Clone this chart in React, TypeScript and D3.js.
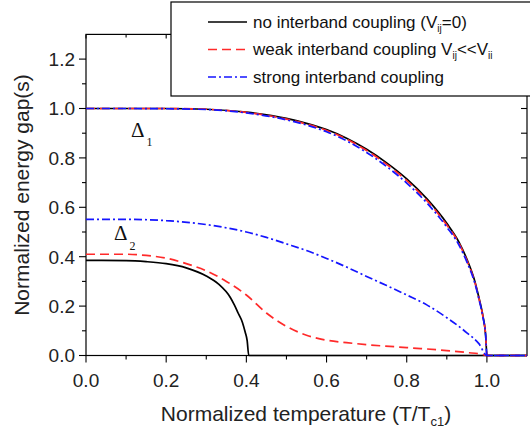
import * as d3 from 'd3';

const W = 530;
const H = 430;
const PLOT = { left: 86, right: 527, top: 34.4, bottom: 355.5 };

// Δ1 (large gap) — same temperature grid for the three cases
const T1 = [0, 0.1, 0.2, 0.3, 0.4, 0.5, 0.55, 0.6, 0.65, 0.7, 0.75, 0.8, 0.85, 0.9, 0.93, 0.95, 0.97, 0.98, 0.99, 0.997, 1.0, 1.1];
const gap1None = [1, 1, 1, 0.997, 0.985, 0.96, 0.94, 0.915, 0.88, 0.835, 0.78, 0.715, 0.635, 0.535, 0.46, 0.39, 0.3, 0.235, 0.16, 0.08, 0, 0];
const gap1Weak = [1, 1, 1, 0.997, 0.984, 0.957, 0.937, 0.911, 0.876, 0.83, 0.774, 0.708, 0.628, 0.528, 0.455, 0.385, 0.296, 0.232, 0.158, 0.079, 0, 0];
const gap1Strong = [1, 1, 0.999, 0.996, 0.982, 0.954, 0.933, 0.906, 0.869, 0.822, 0.765, 0.698, 0.618, 0.52, 0.448, 0.379, 0.292, 0.229, 0.156, 0.078, 0, 0];

// Δ2 (small gap)
const T2None = [0, 0.1, 0.15, 0.2, 0.25, 0.3, 0.33, 0.36, 0.37, 0.38, 0.39, 0.397, 0.402, 0.406, 1.1];
const gap2None = [0.385, 0.384, 0.38, 0.372, 0.355, 0.322, 0.29, 0.235, 0.205, 0.17, 0.135, 0.095, 0.06, 0, 0];
const T2Weak = [0, 0.1, 0.15, 0.2, 0.25, 0.3, 0.35, 0.4, 0.45, 0.5, 0.55, 0.6, 0.65, 0.7, 0.8, 0.9, 0.95, 0.99, 1.0, 1.1];
const gap2Weak = [0.41, 0.41, 0.405, 0.394, 0.372, 0.343, 0.3, 0.245, 0.172, 0.118, 0.082, 0.062, 0.052, 0.044, 0.032, 0.02, 0.012, 0.004, 0, 0];
const T2Strong = [0, 0.1, 0.2, 0.3, 0.4, 0.45, 0.5, 0.55, 0.6, 0.65, 0.7, 0.75, 0.8, 0.85, 0.9, 0.95, 0.98, 1.0, 1.1];
const gap2Strong = [0.551, 0.551, 0.546, 0.53, 0.5, 0.478, 0.452, 0.425, 0.393, 0.358, 0.32, 0.283, 0.245, 0.205, 0.153, 0.092, 0.048, 0, 0];

const xTickLabels = ['0.0', '0.2', '0.4', '0.6', '0.8', '1.0'];
const yTickLabels = ['0.0', '0.2', '0.4', '0.6', '0.8', '1.0', '1.2'];

const BLACK = '#000';
const RED = '#ff2a2a';
const BLUE = '#1515ff';
const DASH = '9,5';
const DASHDOT = '8,3,2,3';

const SANS = '"Liberation Sans", Arial, Helvetica, sans-serif';
const SERIF = '"Liberation Serif", "Times New Roman", serif';

export default function App() {
  const x = d3.scaleLinear().domain([0, 1.1]).range([PLOT.left, PLOT.right]);
  const y = d3.scaleLinear().domain([0, 1.3]).range([PLOT.bottom, PLOT.top]);

  const path = (ts: number[], vs: number[]) =>
    d3
      .line<number>()
      .x((_, i) => x(ts[i]))
      .y((v) => y(v))
      .curve(d3.curveMonotoneX)(vs) as string;

  const xMinor = d3.range(0, 11).map((i) => i / 10);
  const yMinor = d3.range(0, 13).map((i) => i / 10);

  const curves = [
    { d: path(T1, gap1None), color: BLACK, dash: undefined },
    { d: path(T2None, gap2None), color: BLACK, dash: undefined },
    { d: path(T1, gap1Weak), color: RED, dash: DASH },
    { d: path(T2Weak, gap2Weak), color: RED, dash: DASH },
    { d: path(T1, gap1Strong), color: BLUE, dash: DASHDOT },
    { d: path(T2Strong, gap2Strong), color: BLUE, dash: DASHDOT },
  ];

  const legendRows = [
    { color: BLACK, dash: undefined, y: 22 },
    { color: RED, dash: DASH, y: 49.5 },
    { color: BLUE, dash: DASHDOT, y: 77 },
  ];

  return (
    <svg
      width={W}
      height={H}
      style={{ position: 'absolute', left: 0, top: 0, background: '#fff' }}
      fontFamily={SANS}
    >
      <rect x={0} y={0} width={W} height={H} fill="#fff" />

      {/* frame */}
      <rect
        x={PLOT.left}
        y={PLOT.top}
        width={PLOT.right - PLOT.left}
        height={PLOT.bottom - PLOT.top}
        fill="none"
        stroke="#000"
        strokeWidth={1.2}
      />

      {/* bottom + top ticks */}
      {xMinor.map((t, i) => {
        const major = i % 2 === 0;
        return (
          <g key={`xt${i}`} stroke="#000" strokeWidth={1.1}>
            <line x1={x(t)} x2={x(t)} y1={PLOT.bottom} y2={PLOT.bottom + (major ? 7 : 4)} />
            <line x1={x(t)} x2={x(t)} y1={PLOT.top} y2={PLOT.top + (major ? 4 : 3)} />
          </g>
        );
      })}
      {/* left + right ticks */}
      {yMinor.map((v, i) => {
        const major = i % 2 === 0;
        return (
          <g key={`yt${i}`} stroke="#000" strokeWidth={1.1}>
            <line x1={PLOT.left} x2={PLOT.left - (major ? 7 : 4)} y1={y(v)} y2={y(v)} />
            <line x1={PLOT.right} x2={PLOT.right - 6} y1={y(v)} y2={y(v)} />
          </g>
        );
      })}

      {xTickLabels.map((s) => (
        <text key={s} x={x(+s)} y={387} fontSize={19} textAnchor="middle" fill="#222">
          {s}
        </text>
      ))}
      {yTickLabels.map((s) => (
        <text key={s} x={75} y={y(+s)} dy="0.36em" fontSize={19} textAnchor="end" fill="#222">
          {s}
        </text>
      ))}

      {/* curves */}
      {curves.map((c, i) => (
        <path key={i} d={c.d} fill="none" stroke={c.color} strokeWidth={1.7} strokeDasharray={c.dash} />
      ))}

      {/* gap labels */}
      <text x={131} y={137} fontSize={21} fontFamily={SERIF} fill="#111">
        Δ
      </text>
      <text x={146.5} y={146} fontSize={12} fontFamily={SERIF} fill="#111">
        1
      </text>
      <text x={114} y={240} fontSize={21} fontFamily={SERIF} fill="#111">
        Δ
      </text>
      <text x={129.5} y={250} fontSize={12} fontFamily={SERIF} fill="#111">
        2
      </text>

      {/* axis titles */}
      <text x={306} y={421} fontSize={21} textAnchor="middle" fill="#222">
        Normalized temperature (T/T
        <tspan fontSize={13} dy={5}>
          c1
        </tspan>
        <tspan dy={-5}>)</tspan>
      </text>
      <text transform="translate(29,195) rotate(-90)" fontSize={21} textAnchor="middle" fill="#222">
        Normalized energy gap(s)
      </text>

      {/* legend */}
      <rect x={171} y={2} width={400} height={94} fill="#fff" stroke="#000" strokeWidth={1.2} />
      {legendRows.map((r, i) => (
        <line
          key={i}
          x1={208}
          x2={247}
          y1={r.y}
          y2={r.y}
          stroke={r.color}
          strokeWidth={1.7}
          strokeDasharray={r.dash}
        />
      ))}
      <text x={253} y={27.5} fontSize={17} fill="#111">
        no interband coupling (V
        <tspan fontSize={10} dy={4}>
          ij
        </tspan>
        <tspan dy={-4}>=0)</tspan>
      </text>
      <text x={253} y={55} fontSize={17} fill="#111">
        weak interband coupling V
        <tspan fontSize={10} dy={4}>
          ij
        </tspan>
        <tspan dy={-4}>&lt;&lt;V</tspan>
        <tspan fontSize={10} dy={4}>
          ii
        </tspan>
      </text>
      <text x={253} y={82.5} fontSize={17} fill="#111">
        strong interband coupling
      </text>
    </svg>
  );
}
